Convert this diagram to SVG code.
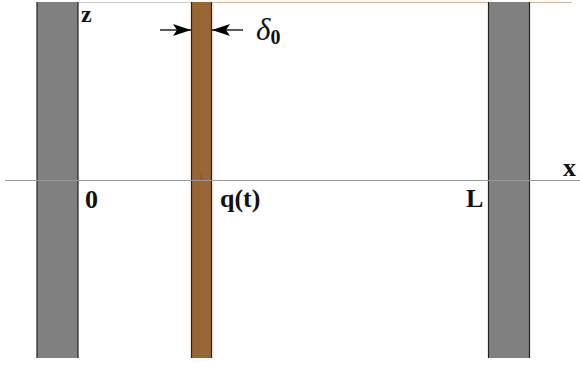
<svg xmlns="http://www.w3.org/2000/svg" width="580" height="367" viewBox="0 0 580 367">
<style>
.wall{fill:#808080}
.plate{fill:#996633}
.edge{stroke:#222;stroke-width:1.2}
.lbl{font-family:"Liberation Serif","Times New Roman",serif;font-weight:bold;font-size:26px;fill:#111}
.greek{font-family:"Liberation Serif","Times New Roman",serif;font-style:italic;font-size:31px;fill:#111}
.sub{font-style:normal;font-weight:bold;font-size:20px}
.arr{stroke:#000;stroke-width:1.3}
</style>
<defs>
<marker id="ah" viewBox="0 0 18 12" refX="18" refY="6" markerWidth="18" markerHeight="12" markerUnits="userSpaceOnUse" orient="auto">
<path d="M0,0 L18,6 L0,12 L4,6 Z" fill="#000"/>
</marker>
</defs>
<rect width="580" height="367" fill="#fff"/>
<g id="top-line">
<line x1="78" y1="2.5" x2="192" y2="2.5" stroke="#d0d0d0" stroke-width="1"/>
<line x1="212" y1="2.5" x2="572" y2="2.5" stroke="#d8b9a0" stroke-width="1"/>
</g>
<g id="wall-left">
<rect class="wall" x="37" y="2" width="41" height="356"/>
<line class="edge" x1="37" y1="2" x2="37" y2="358"/>
<line class="edge" x1="78" y1="2" x2="78" y2="358"/>
</g>
<g id="plate">
<rect class="plate" x="191.5" y="2" width="20" height="356"/>
<line class="edge" x1="191.5" y1="2" x2="191.5" y2="358"/>
<line class="edge" x1="211.5" y1="2" x2="211.5" y2="358"/>
<line x1="213" y1="2" x2="213" y2="358" stroke="#ddd" stroke-width="1"/>
</g>
<g id="wall-right">
<rect class="wall" x="488.5" y="2" width="41" height="356"/>
<line class="edge" x1="488.5" y1="2" x2="488.5" y2="358"/>
<line class="edge" x1="529.5" y1="2" x2="529.5" y2="358"/>
</g>
<g id="axis">
<line x1="5" y1="180.5" x2="580" y2="180.5" stroke="#999" stroke-width="1"/>
<line x1="201" y1="173" x2="201" y2="180" stroke="#555" stroke-width="0.8"/>
</g>
<g id="connectors">
<line class="arr" x1="160" y1="30" x2="191" y2="30" marker-end="url(#ah)"/>
<line class="arr" x1="243" y1="30" x2="212" y2="30" marker-end="url(#ah)"/>
</g>
<g id="labels">
<text class="lbl" x="81" y="22" style="font-size:24px">z</text>
<text class="lbl" x="85" y="208">0</text>
<text class="lbl" x="220" y="207">q(t)</text>
<text class="lbl" x="466" y="207">L</text>
<text class="lbl" x="563" y="176">x</text>
<text class="greek" x="256" y="40">δ<tspan class="sub" dy="4">0</tspan></text>
</g>
</svg>
